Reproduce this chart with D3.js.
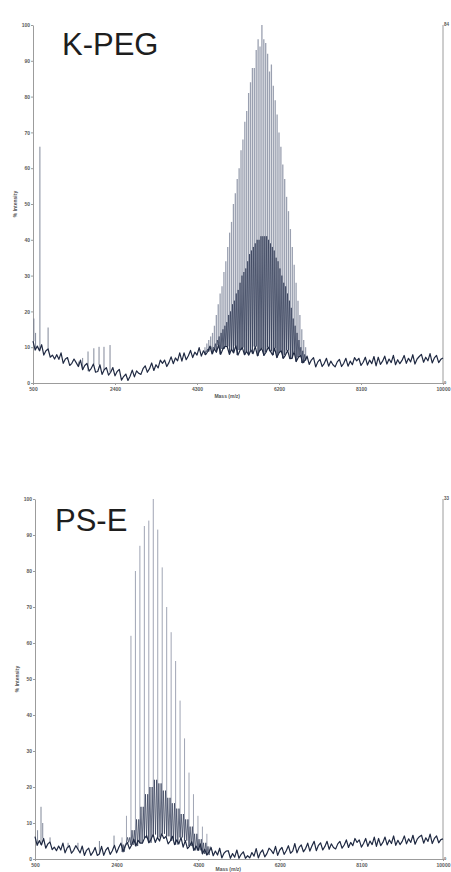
<!DOCTYPE html>
<html>
<head>
<meta charset="utf-8">
<script src="https://cdn.jsdelivr.net/npm/d3@7"></script>
<style>
  body { margin: 0; background: #fff; }
  svg { display: block; }
  text { font-family: 'Liberation Sans', Arial, sans-serif; }
</style>
</head>
<body>
<svg id="chart" width="451" height="872"></svg>
<script>
// Axis ticks shared by both spectra
const massTicks = [500, 2400, 4300, 6200, 8100, 10000];
const intensityTicks = [0, 10, 20, 30, 40, 50, 60, 70, 80, 90, 100];

// Baseline noise: one reading every 50 m/z from 500 to 10000
const noiseStart = 500;
const noiseStep = 50;

// ---- K-PEG ----
const kpegNoise = [
  11.7, 9.2, 10.3, 9, 10.7, 7.8, 9, 9.5, 7.2, 7.8,
  6.7, 7.9, 6.6, 8.4, 5.5, 6.7, 7.1, 4.9, 5.5, 6.7,
  5.7, 4.6, 6.4, 3.7, 4.9, 5.5, 3.3, 4.1, 5.3, 3,
  3.2, 5.1, 2.4, 3.7, 4.3, 2.2, 3, 4.3, 2, 3.2,
  3.8, 0.8, 1.8, 2.5, 0.7, 1.9, 3.6, 1.7, 3.4, 2.7,
  2.4, 4, 4.8, 3, 4, 5.6, 3.5, 5.1, 4.2, 6.4,
  5.5, 6.4, 4.6, 5.7, 7.3, 5.4, 7, 6.2, 8.4, 6.1,
  8.4, 6.5, 7.6, 9.1, 7.1, 8.6, 7.8, 9.9, 7.5, 9,
  7.9, 8.8, 10.3, 8.1, 9.5, 8.6, 10.6, 8, 9.5, 10.2,
  10.2, 8, 9.4, 8.4, 10.4, 7.8, 9.2, 9.9, 7.9, 8.8,
  7.8, 9.2, 8.2, 10.2, 7.6, 9, 9.7, 7.7, 8.6, 10,
  8.9, 7.8, 9.7, 7.1, 8.4, 9, 6.9, 7.8, 9.1, 6.8,
  6.9, 8.7, 6, 7.2, 7.7, 5.6, 6.3, 7.5, 5.2, 6.4,
  7.1, 4.5, 5.9, 6.6, 4.6, 5.5, 6.9, 4.7, 6.1, 5.1,
  4.5, 5.9, 6.6, 4.6, 5.5, 6.9, 4.7, 6.1, 5.1, 7.1,
  6.2, 6.9, 4.9, 5.8, 7.2, 5, 6.4, 5.4, 7.4, 4.8,
  7.2, 5.2, 6.1, 7.5, 5.3, 6.7, 5.7, 7.7, 5.1, 6.5,
  5.4, 6.3, 7.7, 5.5, 6.9, 5.9, 7.9, 5.3, 6.7, 7.4,
  8, 5.8, 7.2, 6.2, 8.2, 5.6, 7, 7.7, 5.7, 6.6,
  7
];
const kpegSpikeMass = [520, 560, 660, 850, 1050, 1300, 1560, 1650, 1775, 1910, 2030, 2145, 2285];
const kpegSpikeHeight = [18, 14, 66, 15.5, 8, 6.5, 6, 7, 8.8, 9.7, 10.1, 10.1, 10.6];

// PEG oligomer ladder (44 m/z repeat)
const kpegFirst = 4484;
const kpegRepeat = 44;
const kpegMain = [
  10, 11, 12, 13,
  14, 16, 19, 22, 25, 27, 31, 34, 38, 42,
  45, 50, 53, 57, 60, 65, 68, 73, 76, 81,
  84, 88, 88, 93, 96, 94, 100, 96, 95, 92,
  87, 89, 83, 79, 75, 70, 66, 61, 57, 52,
  48, 43, 38, 33, 28, 23, 19, 15, 12, 10
];
const kpegMinor = [
  9, 9.5, 9.5, 10,
  10, 11, 12, 13, 14, 15, 16, 17, 19, 20,
  22, 23, 25, 26, 28, 30, 31, 32, 34, 36,
  37, 38, 39, 40, 40, 41, 41, 41, 41, 40,
  39, 38, 37, 35, 34, 32, 30, 28, 27, 25,
  23, 21, 18, 16, 14, 12, 10, 9, 8, 7
];

// ---- PS-E ----
const pseNoise = [
  6.2, 3.8, 5.1, 3.9, 5.7, 3, 4.2, 4.7, 2.6, 3.3,
  2.3, 3.6, 2.5, 4.4, 1.7, 3.1, 3.7, 1.6, 2.4, 3.7,
  2.7, 1.7, 3.6, 1, 2.4, 3, 1, 1.9, 3.2, 1,
  1.4, 3.5, 1, 2.5, 3.2, 1.3, 2.3, 3.8, 1.7, 3.2,
  4.4, 2, 3.6, 4.6, 2.8, 3.9, 5.5, 3.6, 5.2, 4.4,
  4.4, 5.8, 6.5, 4.5, 5.4, 6.8, 4.6, 6, 5, 7,
  5.7, 6.3, 4.2, 5, 6.3, 4, 5.3, 4.2, 6, 3.3,
  5.1, 2.9, 3.6, 4.8, 2.4, 3.6, 2.4, 4.2, 1.4, 2.7,
  1.1, 1.9, 3.2, 0.9, 2.2, 1.1, 3, 0.3, 1.6, 2.2,
  2.3, 0.2, 1.5, 0.5, 2.5, 0.2, 1.3, 2, 0.2, 0.9,
  0.3, 1.8, 0.8, 2.9, 0.3, 1.8, 2.5, 0.6, 1.5, 3,
  2.4, 1.5, 3.5, 1, 2.5, 3.2, 1.3, 2.3, 3.7, 1.6,
  2.2, 4.3, 1.7, 3.2, 3.9, 2, 2.9, 4.4, 2.2, 3.7,
  4.9, 2.3, 3.8, 4.5, 2.5, 3.5, 4.9, 2.7, 4.2, 3.2,
  2.8, 4.2, 4.9, 3, 3.9, 5.3, 3.2, 4.6, 3.7, 5.7,
  4.6, 5.3, 3.3, 4.3, 5.7, 3.5, 5, 4, 6.1, 3.5,
  5.7, 3.7, 4.6, 6.1, 3.9, 5.3, 4.3, 6.4, 3.8, 5.2,
  4, 4.9, 6.4, 4.2, 5.6, 4.6, 6.6, 4.1, 5.5, 6.2,
  6.6, 4.4, 5.9, 4.9, 6.9, 4.3, 5.7, 6.4, 4.5, 5.4,
  5.6
];
const pseSpikeMass = [560, 640, 680, 850, 1270, 1500, 2000, 2340];
const pseSpikeHeight = [8, 14.5, 10, 6, 4.5, 4.5, 5, 6.5];

// Styrene oligomer ladder (104 m/z repeat)
const pseFirst = 2526;
const pseRepeat = 104;
const pseMain = [6, 12, 62, 80, 87, 92.5, 94, 100, 91.5, 81, 70, 63, 55, 44, 33.5, 24, 18, 12, 9, 7];
const pseMinor = [4, 6, 8, 11, 14.5, 18, 20, 22, 21, 19, 17, 15.5, 14, 12.5, 11, 9, 7, 5.5, 4.5, 3.5];

class Spectrum {
  constructor(svg, box, noise) {
    this.g = svg.append('g');
    this.noise = noise;
    this.x = d3.scaleLinear().domain([500, 10000]).range([box.left, box.right]);
    this.y = d3.scaleLinear().domain([0, 100]).range([box.bottom, box.top]);
    this.line = d3.line().x(d => this.x(d[0])).y(d => this.y(d[1]));
  }

  // nearest baseline reading at a given mass
  noiseAt(m) {
    let i = Math.round((m - noiseStart) / noiseStep);
    return this.noise[Math.max(0, Math.min(this.noise.length - 1, i))];
  }

  axes(rightTop, title, titlePos, massLabelDy) {
    let g = this.g;
    let [x0, x1] = this.x.range();
    let [y0, y1] = this.y.range();

    let left = g.append('g')
      .attr('transform', 'translate(' + x0 + ',0)')
      .call(d3.axisLeft(this.y).tickValues(intensityTicks).tickSize(2).tickSizeOuter(0).tickPadding(1));
    let bottom = g.append('g')
      .attr('transform', 'translate(0,' + y0 + ')')
      .call(d3.axisBottom(this.x).tickValues(massTicks).tickFormat(d3.format('d'))
        .tickSize(2).tickSizeOuter(0).tickPadding(2.5));
    for (let a of [left, bottom]) {
      a.select('.domain').attr('stroke', '#9c9c9c');
      a.selectAll('.tick line').attr('stroke', '#9c9c9c');
      a.selectAll('.tick text')
        .attr('font-size', 5)
        .attr('font-weight', 'bold')
        .attr('fill', '#5a5a5a')
        .style('font-family', 'Liberation Sans, Arial, sans-serif');
    }

    // right axis has only end labels
    g.append('line')
      .attr('x1', x1).attr('x2', x1)
      .attr('y1', y1).attr('y2', y0)
      .attr('stroke', '#9c9c9c');
    g.append('text')
      .attr('x', x1 + 1).attr('y', y1 + 1)
      .attr('font-size', 4.5).attr('font-weight', 'bold').attr('fill', '#555')
      .text(rightTop);
    g.append('text')
      .attr('x', x1 + 1).attr('y', y0 + 0.5)
      .attr('font-size', 4).attr('font-weight', 'bold').attr('fill', '#555')
      .text('0');

    g.append('text')
      .attr('transform', 'translate(' + (x0 - 16) + ',' + this.y(50) + ') rotate(-90)')
      .attr('text-anchor', 'middle')
      .attr('font-size', 5).attr('font-weight', 'bold').attr('fill', '#555')
      .text('% Intensity');
    g.append('text')
      .attr('x', this.x(5000)).attr('y', y0 + massLabelDy)
      .attr('text-anchor', 'middle')
      .attr('font-size', 5).attr('font-weight', 'bold').attr('fill', '#555')
      .text('Mass (m/z)');

    g.append('text')
      .attr('x', titlePos[0]).attr('y', titlePos[1])
      .attr('font-size', 31).attr('fill', '#1e1e1e')
      .text(title);
  }

  // oligomer ladder: tall grey sticks plus the dark minor series between them
  ladder(first, repeat, main, minor, humps, stickColor, stickWidth) {
    let peaks = main.map((h, i) => ({m: first + i * repeat, h: h, s: minor[i]}));

    this.g.append('g')
      .selectAll('line')
      .data(peaks)
      .join('line')
      .attr('x1', d => this.x(d.m)).attr('x2', d => this.x(d.m))
      .attr('y1', d => this.y(this.noiseAt(d.m)))
      .attr('y2', d => this.y(d.h))
      .attr('stroke', stickColor)
      .attr('stroke-width', stickWidth);

    let pts = [];
    let step = repeat / (2 * humps);
    for (let p of peaks) {
      let f = this.noiseAt(p.m);
      for (let k = 0; k < humps; k++) {
        pts.push([p.m + step * 2 * k, f]);
        pts.push([p.m + step * (2 * k + 1), p.s]);
      }
    }
    this.g.append('path')
      .datum(pts)
      .attr('d', this.line)
      .attr('fill', 'none')
      .attr('stroke', '#2c3651')
      .attr('stroke-width', 0.7);
  }

  spikes(mass, height) {
    this.g.append('g')
      .selectAll('line')
      .data(mass.map((m, i) => [m, height[i]]))
      .join('line')
      .attr('x1', d => this.x(d[0])).attr('x2', d => this.x(d[0]))
      .attr('y1', d => this.y(this.noiseAt(d[0])))
      .attr('y2', d => this.y(d[1]))
      .attr('stroke', '#737b8d')
      .attr('stroke-width', 0.9);
  }

  baseline() {
    let pts = this.noise.map((v, i) => [noiseStart + i * noiseStep, v]);
    this.g.append('path')
      .datum(pts)
      .attr('d', this.line)
      .attr('fill', 'none')
      .attr('stroke', '#1f2942')
      .attr('stroke-width', 1.2)
      .attr('stroke-linejoin', 'round');
  }
}

let svg = d3.select('#chart');

let kpeg = new Spectrum(svg, {left: 33, right: 443, top: 25, bottom: 383}, kpegNoise);
kpeg.axes('84', 'K-PEG', [62, 55], 15);
kpeg.ladder(kpegFirst, kpegRepeat, kpegMain, kpegMinor, 1, '#9aa0b0', 1.3);
kpeg.spikes(kpegSpikeMass, kpegSpikeHeight);
kpeg.baseline();

let pse = new Spectrum(svg, {left: 35, right: 443, top: 499, bottom: 859}, pseNoise);
pse.axes('33', 'PS-E', [55, 531], 12);
pse.ladder(pseFirst, pseRepeat, pseMain, pseMinor, 2, '#959bab', 0.9);
pse.spikes(pseSpikeMass, pseSpikeHeight);
pse.baseline();
</script>
</body>
</html>
